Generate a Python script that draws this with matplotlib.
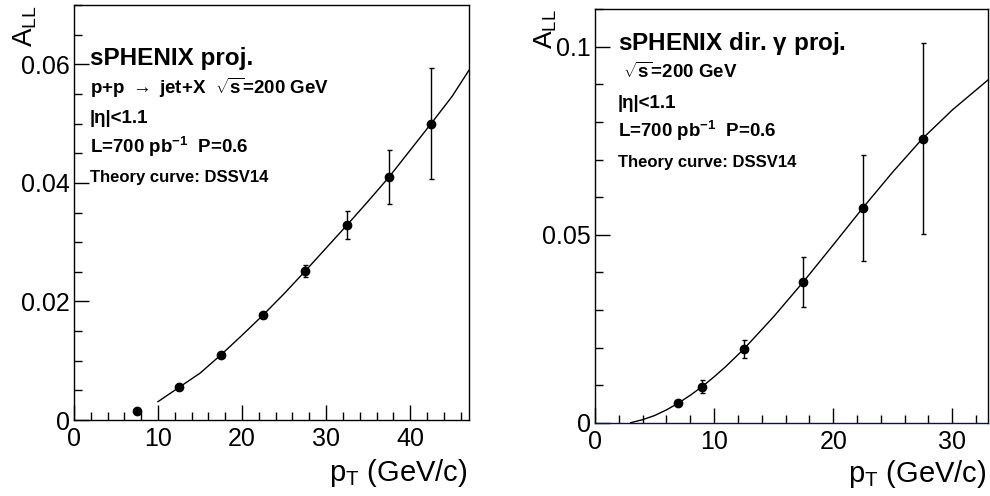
import matplotlib
matplotlib.use("Agg")
import matplotlib.pyplot as plt

plt.rcParams["font.family"] = ["Liberation Sans", "DejaVu Sans"]
plt.rcParams["mathtext.fontset"] = "custom"
plt.rcParams["mathtext.rm"] = "Liberation Sans"
plt.rcParams["mathtext.it"] = "Liberation Sans:italic"
plt.rcParams["mathtext.bf"] = "Liberation Sans:bold"

# --- left panel: jet A_LL ---
jet_pt = [7.5, 12.5, 17.5, 22.5, 27.5, 32.5, 37.5, 42.5]
jet_all = [0.0015, 0.0055, 0.0110, 0.0177, 0.0251, 0.0329, 0.0410, 0.0500]
jet_err = [0.0002, 0.0003, 0.0004, 0.0005, 0.0010, 0.0023, 0.0046, 0.0094]
jet_curve_pt = [10, 12.5, 15, 17.5, 20, 22.5, 25, 27.5, 30, 32.5, 35, 37.5, 40, 42.5, 45, 47]
jet_curve = [0.0031, 0.0055, 0.0079, 0.0110, 0.0143, 0.0177, 0.0213, 0.0251,
             0.0290, 0.0329, 0.0369, 0.0410, 0.0455, 0.0500, 0.0546, 0.0590]
jet_yticks = [0, 0.02, 0.04, 0.06]
jet_yticklabels = ["0", "0.02", "0.04", "0.06"]
jet_xticks = [0, 10, 20, 30, 40]

# --- right panel: direct photon A_LL ---
gam_pt = [7, 9, 12.5, 17.5, 22.5, 27.5]
gam_all = [0.0052, 0.0096, 0.0196, 0.0375, 0.0572, 0.0756]
gam_err = [0.0004, 0.0017, 0.0025, 0.0067, 0.0141, 0.0254]
gam_curve_pt = [3, 4, 5, 6, 7, 8, 9, 10, 11, 12.5, 15, 17.5, 20, 22.5, 25, 27.5, 30, 33]
gam_curve = [0.0, 0.0008, 0.0019, 0.0034, 0.0052, 0.0073, 0.0096, 0.0122, 0.0150,
             0.0196, 0.0282, 0.0375, 0.0473, 0.0572, 0.0667, 0.0756, 0.0832, 0.0912]
gam_yticks = [0, 0.05, 0.1]
gam_yticklabels = ["0", "0.05", "0.1"]
gam_xticks = [0, 10, 20, 30]

jet_text = [
    (r"sPHENIX proj.", 17.5, 0.855),
    (r"p+p $\mathregular{\rightarrow}$ jet+X  $\mathbf{\sqrt{s}}$=200 GeV", 13.5, 0.786),
    (r"|η|<1.1", 13.5, 0.716),
    (r"L=700 pb$^{\mathbf{-1}}$  P=0.6", 13.5, 0.643),
    (r"Theory curve: DSSV14", 12, 0.573),
]
gam_text = [
    (r"sPHENIX dir. $\mathregular{\gamma}$ proj.", 17.5, 0.902),
    (r" $\mathbf{\sqrt{s}}$=200 GeV", 13.5, 0.834),
    (r"|η|<1.1", 13.5, 0.761),
    (r"L=700 pb$^{\mathbf{-1}}$  P=0.6", 13.5, 0.690),
    (r"Theory curve: DSSV14", 12, 0.619),
]

fig = plt.figure(figsize=(9.9, 4.96), dpi=100)
ax1 = fig.add_axes([0.0747, 0.1532, 0.399, 0.8367])
ax2 = fig.add_axes([0.601, 0.1478, 0.397, 0.8335])


def style(ax, xmax, ymax, xticks, yticks, ylabels, xminor, yminor):
    ax.set_xlim(0, xmax)
    ax.set_ylim(0, ymax)
    ax.set_xticks(xticks)
    ax.set_xticklabels([str(t) for t in xticks])
    ax.set_yticks(yticks)
    ax.set_yticklabels(ylabels)
    ax.set_xticks([t for t in range(0, int(xmax) + 1, xminor)], minor=True)
    ax.set_yticks([i * yminor for i in range(int(round(ymax / yminor)) + 1)], minor=True)
    ax.tick_params(direction="in", which="major", length=11, width=1.0,
                   labelsize=18, pad=3, top=False, right=False)
    ax.tick_params(direction="in", which="minor", length=6, width=1.0,
                   top=False, right=False)
    ax.tick_params(axis="x", which="major", pad=5)
    for s in ax.spines.values():
        s.set_linewidth(1.0)


style(ax1, 47, 0.07, jet_xticks, jet_yticks, jet_yticklabels, 2, 0.005)
style(ax2, 33, 0.11, gam_xticks, gam_yticks, gam_yticklabels, 2, 0.01)
ax2.spines["bottom"].set_color("#141438")

ax1.plot(jet_curve_pt, jet_curve, color="black", lw=1.0)
ax1.errorbar(jet_pt, jet_all, yerr=jet_err, fmt="o", color="black", ms=6,
             elinewidth=1.0, capsize=1.8, capthick=1.0, clip_on=False)

ax2.plot(gam_curve_pt, gam_curve, color="black", lw=1.0)
ax2.errorbar(gam_pt, gam_all, yerr=gam_err, fmt="o", color="black", ms=6,
             elinewidth=1.0, capsize=1.8, capthick=1.0)

for ax, lines, x0 in [(ax1, jet_text, 0.0405), (ax2, gam_text, 0.0585)]:
    for txt, fs, y in lines:
        ax.text(x0, y, txt, transform=ax.transAxes, fontsize=fs,
                fontweight="bold", va="baseline", ha="left")

ax1.text(0.995, -0.147, r"p$_\mathregular{T}$ (GeV/c)", transform=ax1.transAxes,
         fontsize=21, ha="right", va="baseline")
ax2.text(0.995, -0.143, r"p$_\mathregular{T}$ (GeV/c)", transform=ax2.transAxes,
         fontsize=21, ha="right", va="baseline")
ax1.text(-0.124, 1.0, r"A$_\mathregular{LL}$", transform=ax1.transAxes,
         fontsize=20, rotation=90, ha="center", va="top")
ax2.text(-0.125, 1.0, r"A$_\mathregular{LL}$", transform=ax2.transAxes,
         fontsize=19, rotation=90, ha="center", va="top")

fig.savefig("out.png", dpi=100)
